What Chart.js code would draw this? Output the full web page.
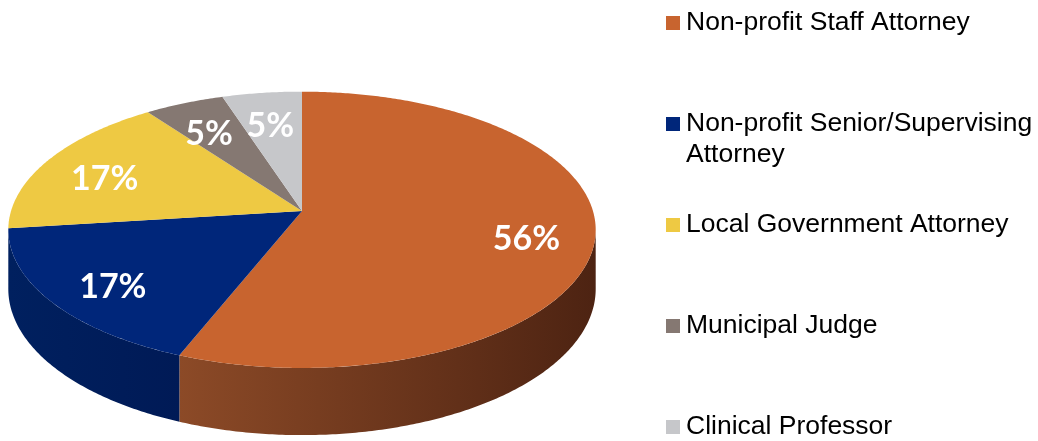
<!DOCTYPE html>
<html><head><meta charset="utf-8">
<script src="https://cdn.jsdelivr.net/npm/chart.js@4/dist/chart.umd.min.js"></script>
<style>html,body{margin:0;padding:0;background:#fff}#wrap{width:1038px;height:441px}</style>
</head><body><div id="wrap"><canvas id="c" width="1038" height="441"></canvas></div>
<script>
// ---- data ----
const categories = ['Non-profit Staff Attorney','Non-profit Senior/Supervising Attorney','Local Government Attorney','Municipal Judge','Clinical Professor'];
const shares = [56, 17, 17, 5, 5];
const percentLabels = ['56%', '17%', '17%', '5%', '5%'];
const topColors = ['#C8642F', '#00267A', '#EEC943', '#857872', '#C6C7CA'];
const sideLight = ['#8C4A27', '#00205F', '#B8972F', '#5F5550', '#9A9B9E'];
const sideDark  = ['#4D2312', '#001A56', '#8A7020', '#4A423E', '#7E7F82'];

// ---- 3D look (geometry factors relative to library arc radius) ----
const KX = 1.379, KY = 0.6427, PERSP = 0.136, DEPTH = 0.275;

function proj(arc, ang, r, drop) {
  const R = arc.outerRadius;
  const u = r * Math.cos(ang), v = r * Math.sin(ang);
  const w = 1 - PERSP * v;
  let y = arc.y + R * KY * v / w;
  if (drop) y += R * DEPTH / (1 - PERSP * Math.sin(ang));
  return [arc.x + R * KX * u / w, y];
}

const pie3d = {
  id: 'pie3d',
  beforeDatasetsDraw(chart) {
    const ctx = chart.ctx;
    const meta = chart.getDatasetMeta(0);
    const arcs = meta.data;
    const visA = Math.asin(PERSP), visB = Math.PI - Math.asin(PERSP);
    // side walls (front-facing part only)
    arcs.forEach((arc, i) => {
      const s = Math.max(arc.startAngle, visA), e = Math.min(arc.endAngle, visB);
      if (e <= s) return;
      const n = Math.max(8, Math.ceil((e - s) / 0.01));
      const topPts = [], botPts = [];
      for (let k = 0; k <= n; k++) {
        const t = s + (e - s) * k / n;
        topPts.push(proj(arc, t, 1, false));
        botPts.push(proj(arc, t, 1, true));
      }
      let minX = Infinity, maxX = -Infinity;
      topPts.forEach(p => { minX = Math.min(minX, p[0]); maxX = Math.max(maxX, p[0]); });
      const g = ctx.createLinearGradient(minX, 0, maxX + 1, 0);
      g.addColorStop(0, sideLight[i]);
      g.addColorStop(1, sideDark[i]);
      ctx.beginPath();
      topPts.forEach((p, k) => k ? ctx.lineTo(p[0], p[1]) : ctx.moveTo(p[0], p[1]));
      for (let k = botPts.length - 1; k >= 0; k--) ctx.lineTo(botPts[k][0], botPts[k][1]);
      ctx.closePath();
      ctx.fillStyle = g;
      ctx.fill();
    });
    // top faces
    arcs.forEach((arc, i) => {
      const s = arc.startAngle, e = arc.endAngle;
      const n = Math.max(8, Math.ceil((e - s) / 0.01));
      ctx.beginPath();
      ctx.moveTo(arc.x, arc.y);
      for (let k = 0; k <= n; k++) {
        const p = proj(arc, s + (e - s) * k / n, 1, false);
        ctx.lineTo(p[0], p[1]);
      }
      ctx.closePath();
      ctx.fillStyle = topColors[i];
      ctx.fill();
    });
    // percent labels
    ctx.save();
    ctx.fillStyle = '#FFFFFF';
    ctx.font = 'bold 34px Lato, "Open Sans", sans-serif';
    ctx.textAlign = 'center';
    ctx.textBaseline = 'middle';
    arcs.forEach((arc, i) => {
      const mid = (arc.startAngle + arc.endAngle) / 2;
      const p = proj(arc, mid, 0.77, false);
      ctx.fillText(percentLabels[i], p[0], p[1] + 8);
    });
    ctx.restore();
    return false;
  },
  afterDraw(chart) {
    const ctx = chart.ctx;
    ctx.save();
    ctx.font = '26.5px "Liberation Sans", Arial, sans-serif';
    ctx.textBaseline = 'middle';
    ctx.textAlign = 'left';
    const x0 = 666, tx = 686, maxW = 352, top = 23, step = 101, lh = 31;
    chart.data.labels.forEach((lab, i) => {
      const y = top + i * step;
      ctx.fillStyle = topColors[i];
      ctx.fillRect(x0, y - 7, 14, 14);
      ctx.fillStyle = '#000000';
      const words = lab.split(' ');
      const lines = [];
      let cur = '';
      words.forEach(wd => {
        const test = cur ? cur + ' ' + wd : wd;
        if (cur && ctx.measureText(test).width > maxW) { lines.push(cur); cur = wd; }
        else cur = test;
      });
      if (cur) lines.push(cur);
      lines.forEach((ln, k) => ctx.fillText(ln, tx, y + k * lh));
    });
    ctx.restore();
  }
};

new Chart(document.getElementById('c'), {
  type: 'pie',
  data: {
    labels: categories,
    datasets: [{ data: shares, backgroundColor: topColors, borderWidth: 0 }]
  },
  options: {
    responsive: false,
    animation: false,
    layout: { padding: { left: 11, right: 445, top: 0, bottom: 19 } },
    plugins: { legend: { display: false }, tooltip: { enabled: false } }
  },
  plugins: [pie3d]
});
</script>
</body></html>
